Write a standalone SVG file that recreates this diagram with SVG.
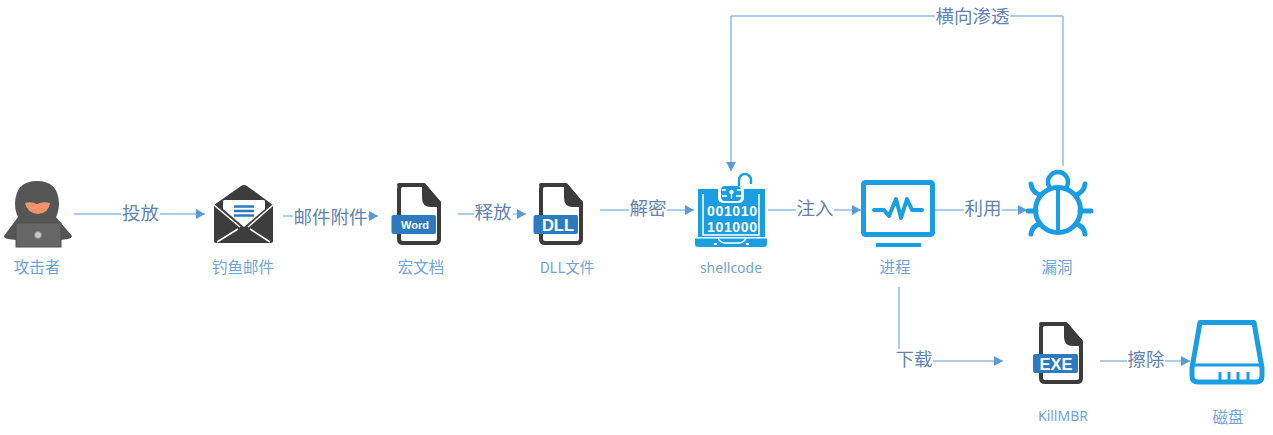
<svg xmlns="http://www.w3.org/2000/svg" width="1273" height="435" viewBox="0 0 1273 435">
<style>
text{font-family:"Noto Sans CJK SC","Noto Sans",sans-serif;text-anchor:middle}
.n{font-size:15.500px;fill:#6fa3dc}
.l{font-family:"Noto Sans",sans-serif;font-size:14px;fill:#6fa3dc}
.e{font-size:18.500px;fill:#5f83b5}
.c{fill:none;stroke:#5b9bd5;stroke-width:1}
.lb{fill:#fff;stroke:none}
.doc{fill:#fff;stroke:#3b3b3b;stroke-width:4;stroke-linejoin:round}
.fold{fill:#3b3b3b}
.ban{fill:#2e7abf}
.bt{fill:#fff;font-family:"Liberation Sans",sans-serif;font-weight:700}
.ic{fill:#1a9ee2}
.is{fill:none;stroke:#1a9ee2;stroke-linecap:round;stroke-linejoin:round}
.b{fill:#fff;font-family:"Liberation Sans",sans-serif;font-weight:700;font-size:14px}
</style>
<defs>
<marker id="a" markerUnits="userSpaceOnUse" markerWidth="10" markerHeight="10" refX="9" refY="5" orient="auto"><path d="M0 0L9 5L0 10Z" fill="#5b9bd5"/></marker>
<g id="file">
<path class="doc" d="M5 2H30L45 20V56Q45 60 41 60H9Q5 60 5 56V6Q5 2 9 2Z"/>
<path class="fold" d="M28 1H31L47 19V24H37Q28 24 28 15Z"/>
</g>
</defs>
<g id="connectors">
<path class="c" marker-end="url(#a)" d="M74 214H205"/>
<path class="c" marker-end="url(#a)" d="M283 216H378"/>
<path class="c" marker-end="url(#a)" d="M458 214H526"/>
<path class="c" marker-end="url(#a)" d="M600 210H694"/>
<path class="c" marker-end="url(#a)" d="M768 210H861"/>
<path class="c" marker-end="url(#a)" d="M935 210H1027"/>
<path class="c" marker-end="url(#a)" d="M1063 166V16H731V171"/>
<path class="c" marker-end="url(#a)" d="M899 287V361H1003"/>
<path class="c" marker-end="url(#a)" d="M1100 361H1190"/>
</g>
<g id="edge-labels">
<rect class="lb" x="121" y="202" width="39" height="24"/><text class="e" x="140.500" y="220">投放</text>
<rect class="lb" x="293" y="205" width="75" height="24"/><text class="e" x="330.500" y="224">邮件附件</text>
<rect class="lb" x="474" y="202" width="39" height="24"/><text class="e" x="493" y="219">释放</text>
<rect class="lb" x="629" y="198" width="38" height="24"/><text class="e" x="648" y="215">解密</text>
<rect class="lb" x="796" y="198" width="38" height="24"/><text class="e" x="815" y="215">注入</text>
<rect class="lb" x="964" y="198" width="38" height="24"/><text class="e" x="983" y="215">利用</text>
<rect class="lb" x="935" y="5" width="75" height="24"/><text class="e" x="972.500" y="23">横向渗透</text>
<rect class="lb" x="895" y="349" width="38" height="24"/><text class="e" x="914" y="366">下载</text>
<rect class="lb" x="1127" y="349" width="38" height="24"/><text class="e" x="1146" y="366">擦除</text>
</g>
<g id="attacker">
<path d="M4 236L18 217Q15 211 15 203Q16 181 37 181Q58 181 59 203Q59 211 56 217L72 236Q72 238 68 239L61 240V247H16V240L8 239Q4 238 4 236Z" fill="#555"/>
<path d="M25 203Q31 201 37 204Q43 201 50 203Q49 213 38 214Q27 213 25 203Z" fill="#f0936d"/>
<rect x="16" y="223" width="45" height="24" fill="#666" stroke="#4f4f4f"/>
<circle cx="38" cy="235" r="3.500" fill="#c9c9c9" stroke="#888"/>
<text class="n" x="37" y="273">攻击者</text>
</g>
<g id="phishing-mail">
<path d="M241 186Q244 184 247 186L273 205V241Q273 243 271 243H216Q214 243 214 241V205Z" fill="#3d3d3d"/>
<path d="M223 201Q223 200 225 200H263Q265 200 265 201V209L244 227L223 209Z" fill="#fff"/>
<path d="M214 205L240 227M273 205L248 227M217 242L238 229M270 242L250 229" stroke="#fff" stroke-width="1.500" fill="none"/>
<path d="M234 206.500H254M234 211H254M234 215.500H254" stroke="#2e7abf" stroke-width="2.500"/>
<text class="n" x="243" y="273">钓鱼邮件</text>
</g>
<g id="word-doc">
<use href="#file" transform="translate(394 183)"/>
<rect class="ban" x="391.500" y="215" width="44.500" height="19" rx="2"/>
<text class="bt" x="415" y="229" font-size="11">Word</text>
<text class="n" x="421" y="273">宏文档</text>
</g>
<g id="dll-file">
<use href="#file" transform="translate(536 183)"/>
<rect class="ban" x="533.500" y="215" width="44.500" height="19" rx="2"/>
<text class="bt" x="558" y="231" font-size="16.500">DLL</text>
<text x="567" y="273" style="font-size:14.500px;fill:#6fa3dc">DLL文件</text>
</g>
<g id="shellcode">
<rect class="ic" x="698" y="189" width="67" height="51"/>
<path d="M703 194V235H759V194" fill="none" stroke="#fff" stroke-width="1.500"/>
<path class="ic" d="M695 238H767V244Q767 247 764 247H698Q695 247 695 244Z"/>
<rect x="695" y="237" width="72" height="1.500" fill="#fff"/>
<path d="M718 238Q720 243 726 243H738Q744 243 746 238" fill="none" stroke="#fff" stroke-width="1.500"/>
<path d="M714 244H717M746 244H749" stroke="#fff" stroke-width="2"/>
<rect x="718" y="186" width="26" height="17" rx="5" fill="#fff"/>
<rect class="ic" x="721" y="186" width="20" height="15" rx="4"/>
<circle cx="731.500" cy="192" r="2.200" fill="#fff"/>
<path d="M731.500 193V199M722 190H726M737 190H741M722 196H727M736 196H741" stroke="#fff" stroke-width="1.300"/>
<path class="is" d="M739 185V180A6 6 0 0 1 751 180V183" stroke-width="2.500"/>
<text class="b" x="732" y="216" textLength="50" lengthAdjust="spacing">001010</text>
<text class="b" x="732" y="232" textLength="50" lengthAdjust="spacing">101000</text>
<text class="l" x="731" y="273">shellcode</text>
</g>
<g id="process">
<rect x="863.500" y="182.500" width="69" height="52" rx="2" fill="#fff" stroke="#1a9ee2" stroke-width="5"/>
<rect class="ic" x="876" y="243" width="45" height="4"/>
<path class="is" stroke-width="4" d="M874 210H884L889 216L896 199L901 218L907 199L912 210H922"/>
<text class="n" x="895" y="273">进程</text>
</g>
<g id="vulnerability">
<circle cx="1058" cy="210" r="22.500" fill="#fff" stroke="#1a9ee2" stroke-width="5"/>
<path class="is" stroke-width="4" d="M1058 189V232"/>
<path class="is" stroke-width="4.500" d="M1050 188A10 10 0 1 1 1066 188"/>
<path class="is" stroke-width="5" d="M1031 184Q1032 192 1040 195M1085 184Q1084 192 1076 195M1028 211H1036M1091 211H1080M1031 234Q1032 226 1040 224M1085 234Q1084 226 1076 224"/>
<text class="n" x="1057" y="273">漏洞</text>
</g>
<g id="killmbr">
<use href="#file" transform="translate(1036 322)"/>
<rect class="ban" x="1033" y="354" width="45" height="19" rx="2"/>
<text class="bt" x="1056" y="370" font-size="16.500">EXE</text>
<text class="l" x="1063" y="421">KillMBR</text>
</g>
<g id="disk">
<path class="is" stroke-width="5" d="M1200 322.500H1254L1262 368V376Q1262 382 1256 382H1198Q1192 382 1192 376V368Z"/>
<path class="is" stroke-width="3" d="M1193 365H1261"/>
<path d="M1220 382V372M1229 382V372M1238 382V372M1248 382V372" stroke="#1a9ee2" stroke-width="3"/>
<text class="n" x="1228" y="423">磁盘</text>
</g>
</svg>
